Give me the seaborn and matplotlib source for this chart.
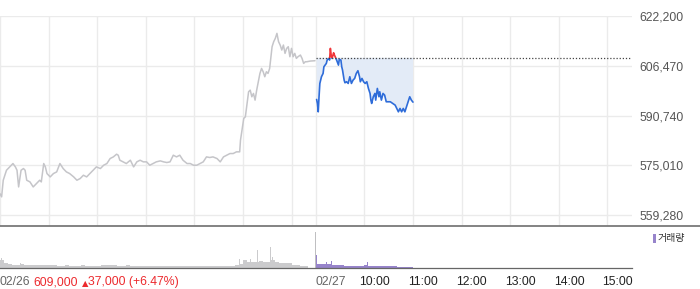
import numpy as np
import pandas as pd
import matplotlib
matplotlib.use("Agg")
import matplotlib.pyplot as plt
import seaborn as sns
from matplotlib.patches import Rectangle
from matplotlib.lines import Line2D
from matplotlib.transforms import ScaledTranslation

# ---------------- data ----------------
# minutes counted from 02/26 09:00 (02/27 09:00 = 390)
prev_day_minutes = [0, 2, 4, 8, 12, 16, 19, 21, 23, 26, 29, 31, 33, 37, 41, 43, 45, 49, 51, 54,
                    56, 58, 62, 66, 70, 74, 78, 82, 86, 91, 95, 99, 103, 107, 111, 115, 119, 124,
                    128, 132, 136, 140, 144, 146, 148, 152, 156, 161, 165, 169, 173, 177, 181, 185,
                    189, 193, 198, 202, 206, 210, 214, 218, 222, 226, 231, 235, 239, 243, 247, 251,
                    255, 259, 263, 268, 272, 276, 280, 284, 288, 292, 296, 297, 301, 303, 307, 309,
                    311, 313, 315, 317, 319, 321, 323, 325, 327, 329, 331, 333, 336, 338, 340, 342,
                    344, 346, 348, 350, 352, 354, 356, 358, 360, 362, 364, 366, 368, 371, 373, 375,
                    377, 379, 383, 389]
prev_day_prices = [566100, 565100, 570350, 573500, 574560, 575620, 574560, 573500, 568240, 573500,
                   574040, 573500, 570350, 569820, 568240, 568770, 569290, 570350, 569820, 575620,
                   574560, 572460, 571400, 572460, 572980, 575620, 574040, 572980, 572460, 571400,
                   570350, 570880, 571930, 571400, 572460, 573500, 574560, 574040, 575090, 575620,
                   577200, 577720, 578570, 578250, 576670, 576150, 575620, 576670, 574560, 576150,
                   576670, 576150, 576150, 575090, 575620, 576150, 576460, 576150, 575940, 576150,
                   578250, 577720, 578250, 576670, 575620, 575620, 575090, 575090, 575620, 576150,
                   577720, 577520, 577720, 577200, 576150, 577720, 578250, 578780, 578780, 579310,
                   579310, 583000, 589850, 590370, 598280, 598800, 596700, 597750, 595640, 598800,
                   601440, 604070, 605650, 604600, 603020, 604600, 604070, 605650, 612500, 614090,
                   615140, 616720, 614090, 613030, 611450, 613030, 610400, 611980, 612500, 609340,
                   611980, 609340, 610400, 608820, 609340, 609870, 608820, 607230, 607760, 607760,
                   607970, 608080]

today_minutes = [391, 392, 393, 394, 395, 397, 399, 400, 403, 404, 406, 407, 408, 409, 410, 412,
                 413, 414, 416, 418, 419, 421, 422, 423, 425, 426, 428, 430, 432, 434, 436, 438,
                 440, 442, 444, 445, 447, 449, 451, 453, 455, 457, 458, 459, 461, 463, 464, 466,
                 468, 469, 471, 473, 475, 477, 480, 482, 485, 488, 490, 492, 494, 496, 498, 500,
                 502, 504, 506, 508, 510]
today_prices = [595850, 594590, 591950, 596700, 600910, 603020, 604070, 606180, 607230, 608290,
                608820, 608290, 611980, 609870, 608820, 610600, 609870, 609340, 608080, 606700,
                608500, 608290, 606180, 605130, 601960, 601120, 601440, 600910, 603020, 600910,
                601960, 602490, 604070, 604920, 603020, 601440, 602490, 601440, 600910, 601440,
                599330, 597750, 595640, 594590, 596700, 597750, 595640, 599330, 596700, 598280,
                595640, 597750, 597220, 595120, 595120, 595120, 594590, 594060, 593010, 591950,
                593010, 591950, 593010, 591950, 593530, 595120, 596700, 595650, 595010]

prev_close = 609000
price_ticks = [559280, 575010, 590740, 606470, 622200]
price_tick_labels = ["559,280", "575,010", "590,740", "606,470", "622,200"]
grid_minutes = [0, 60, 120, 180, 240, 300, 360, 390, 450, 510, 570, 630, 690, 750]
time_tick_minutes = [0, 390, 450, 510, 570, 630, 690, 750]
time_tick_labels = ["02/26", "02/27", "10:00", "11:00", "12:00", "13:00", "14:00", "15:00"]

# volume (thousand shares): typical level per 5-minute block
prev_vol_start = list(range(0, 380, 5))
prev_vol = [8, 5, 4, 3, 3, 4, 3, 3, 3, 3, 3, 3, 3, 3, 2, 2, 3, 2, 2, 2,
            3, 2, 2, 2, 2, 3, 3, 3, 3, 2, 2, 3, 2, 2, 2, 2, 2, 2, 2, 2,
            2, 2, 2, 2, 2, 2, 2, 2, 2, 2, 2, 2, 2, 2, 2, 2, 2, 2, 3, 4,
            8, 6, 6, 6, 7, 6, 6, 8, 6, 5, 5, 5, 3, 3, 2, 2]
# single-minute spikes
prev_spike_minutes = [0, 2, 25, 296, 302.5, 309, 318.5, 323.5, 334.5, 337]
prev_spike_vol = [27, 10, 5, 9, 11, 9, 18, 10, 21, 11]
closing_auction_minute = 389.5
closing_auction_vol = 36
today_vol_start = list(range(390, 510, 5))
today_vol = [4, 4, 4, 4, 3, 3, 3, 2.5, 2.5, 2.5, 2, 2, 3, 2, 2, 2, 2, 2, 2, 2, 1.5, 1.5, 1.5, 1.5]
today_spike_minutes = [390.8, 403.5, 409, 453.5]
today_spike_vol = [13, 6.5, 7.5, 6]

summary_price = "609,000"
summary_arrow = "\u25b2"
summary_change = "37,000"
summary_pct = "(+6.47%)"
legend_label = "거래량"

# ---------------- style ----------------
sns.set_theme(style="white")
plt.rcParams["font.family"] = ["Liberation Sans", "Noto Sans CJK KR", "DejaVu Sans"]

W, H = 700, 289
fig = plt.figure(figsize=(W / 100, H / 100), dpi=100)
fig.patch.set_facecolor("white")

plot_w = 631.6 / W
ax = fig.add_axes([0, 1 - 226 / H, plot_w, (226 - 16) / H])
axv = fig.add_axes([0, 1 - 268 / H, plot_w, (268 - 226) / H])

GRAY_LINE = "#c5c5c9"
BLUE = "#2e6cd9"
RED = "#f0363a"
FILL_BLUE = "#e3ebf7"
FILL_RED = "#fbe2e2"
GRID = "#ebebeb"
PURPLE = "#9784cb"
VOL_GRAY = "#cbcbcd"
TEXT_GRAY = "#555555"
RED_TEXT = "#ec2a2e"

ymin, ymax = 555900, 622200
ax.set_xlim(0, 780)
ax.set_ylim(ymin, ymax)

# fill between today's line and previous close
tm = np.array(today_minutes, dtype=float)
tp = np.array(today_prices, dtype=float)
ax.fill_between(tm, tp, prev_close, where=tp <= prev_close, interpolate=True,
                color=FILL_BLUE, lw=0, zorder=1)
ax.fill_between(tm, tp, prev_close, where=tp >= prev_close, interpolate=True,
                color=FILL_RED, lw=0, zorder=1)

# previous day line
sns.lineplot(x=prev_day_minutes, y=prev_day_prices, color=GRAY_LINE, lw=1.1,
             estimator=None, sort=False, ax=ax, zorder=3)

# today's line: blue below previous close, red above
sns.lineplot(x=today_minutes, y=today_prices, color=BLUE, lw=1.2,
             estimator=None, sort=False, ax=ax, zorder=4)
ax.lines[-1].set_clip_path(Rectangle((0, ymin), 780, prev_close - ymin, transform=ax.transData))
sns.lineplot(x=today_minutes, y=today_prices, color=RED, lw=1.2,
             estimator=None, sort=False, ax=ax, zorder=4)
ax.lines[-1].set_clip_path(Rectangle((0, prev_close), 780, ymax - prev_close, transform=ax.transData))

# previous close dotted line
ax.hlines(prev_close, 390, 780, colors="#444444", linestyles=(0, (1, 1.5)), lw=0.9, zorder=5)

# grid and axes
ax.set_xticks(grid_minutes)
ax.set_xticklabels([])
ax.set_yticks(price_ticks)
ax.set_yticklabels(price_tick_labels)
ax.yaxis.tick_right()
ax.tick_params(axis="both", length=0)
ax.tick_params(axis="y", pad=5.5, labelsize=8.8, labelcolor=TEXT_GRAY)
ax.grid(True, color=GRID, lw=1)
ax.set_axisbelow(True)
for s in ax.spines.values():
    s.set_visible(False)
ax.set_xlabel("")
ax.set_ylabel("")

# separator line across full width
fig.add_artist(Line2D([0, 1], [1 - 226 / H, 1 - 226 / H], color="#7a7a7a", lw=1.3,
                      transform=fig.transFigure))

# ---------------- volume ----------------
axv.set_xlim(0, 780)
axv.set_ylim(0, 42)
axv.bar(np.array(prev_vol_start) + 2.5, prev_vol, width=5.0, color=VOL_GRAY, lw=0)
axv.bar(prev_spike_minutes, prev_spike_vol, width=1.0, color=VOL_GRAY, lw=0)
axv.bar([closing_auction_minute], [closing_auction_vol], width=1.0, color="#bfbfc1", lw=0)
axv.bar(np.array(today_vol_start) + 2.5, today_vol, width=5.0, color=PURPLE, lw=0)
axv.bar(today_spike_minutes, today_spike_vol, width=1.0, color=PURPLE, lw=0)

for k, s in axv.spines.items():
    s.set_visible(k == "bottom")
axv.spines["bottom"].set_color("#666666")
axv.spines["bottom"].set_linewidth(0.9)
axv.set_yticks([])
axv.set_xticks(time_tick_minutes)
axv.set_xticklabels(time_tick_labels)
axv.tick_params(axis="x", length=3.2, width=1, color="#333333", pad=2.6,
                labelsize=8.8, direction="out")
axv.set_xlabel("")
axv.set_ylabel("")
axv.patch.set_alpha(0)
for i, lab in enumerate(axv.get_xticklabels()):
    lab.set_ha("left")
    if i < 2:
        lab.set_color("#666666")
    else:
        lab.set_color("#222222")
        lab.set_transform(lab.get_transform() + ScaledTranslation(-5 / 100, 0, fig.dpi_scale_trans))

# summary after "02/26"
y_off = -(3.2 + 2.6) / 0.72
axv.annotate(summary_price, xy=(0, 0), xycoords="axes fraction", xytext=(33, y_off),
             textcoords="offset pixels", ha="left", va="top", fontsize=8.8, color=RED_TEXT)
axv.annotate(summary_arrow, xy=(0, 0), xycoords="axes fraction", xytext=(81.5, y_off - 2.5),
             textcoords="offset pixels", ha="left", va="top", fontsize=6,
             color=RED_TEXT, family=["DejaVu Sans"])
axv.annotate(summary_change + " " + summary_pct, xy=(0, 0), xycoords="axes fraction",
             xytext=(88, y_off), textcoords="offset pixels", ha="left", va="top",
             fontsize=8.8, color=RED_TEXT)

# legend
fig.add_artist(Rectangle((652.5 / W, 1 - 243 / H), 3 / W, 9 / H, transform=fig.transFigure,
                         color=PURPLE, lw=0))
fig.text(658 / W, 1 - 238.5 / H, legend_label, ha="left", va="center", fontsize=7.2,
         color="#333333", family=["Noto Sans CJK KR", "DejaVu Sans"])

fig.savefig("out.png", dpi=100, facecolor="white")
